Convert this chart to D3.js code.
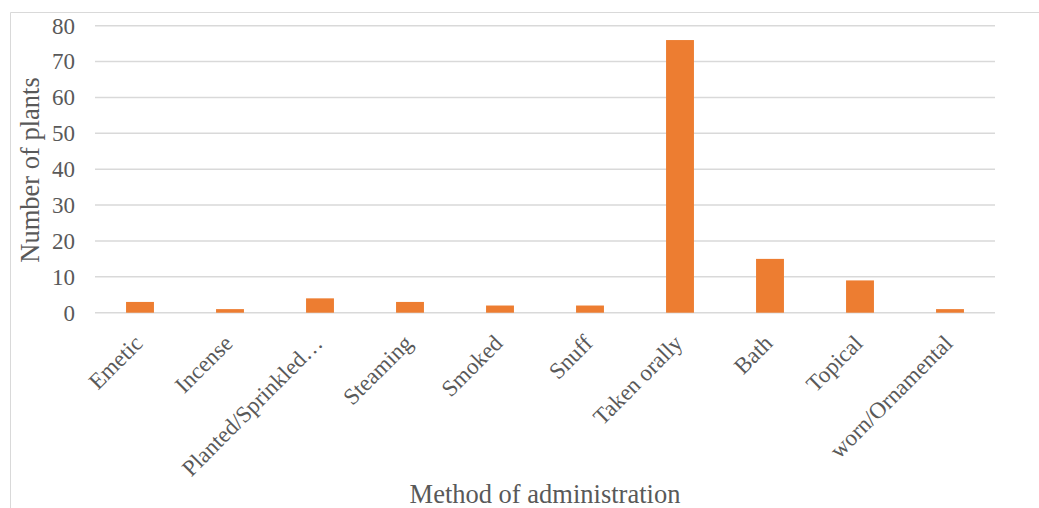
<!DOCTYPE html>
<html>
<head>
<meta charset="utf-8">
<script src="https://cdn.jsdelivr.net/npm/d3@7"></script>
<style>
  html, body { margin: 0; padding: 0; background: #fff; }
  svg { display: block; }
</style>
</head>
<body>
<svg id="chart" width="1039" height="508"></svg>
<script>
// Plants per method of administration
const categories = ["Emetic", "Incense", "Planted/Sprinkled\u2026", "Steaming", "Smoked", "Snuff", "Taken orally", "Bath", "Topical", "worn/Ornamental"];
const plantCounts = [3, 1, 4, 3, 2, 2, 76, 15, 9, 1];
const yTicks = [0, 10, 20, 30, 40, 50, 60, 70, 80];
const yTitle = "Number of plants";
const xTitle = "Method of administration";

const svg = d3.select("#chart");
const font = "'Liberation Serif', 'Times New Roman', serif";
const textColor = "#595959";

// chart frame
svg.append("path")
  .attr("d", "M10.5,508 V12.5 H1039")
  .attr("fill", "none")
  .attr("stroke", "#d9d9d9")
  .attr("stroke-width", 1);

const plot = { left: 95, right: 995, top: 25.7, bottom: 312.7 };

const x = d3.scaleBand()
  .domain(categories)
  .range([plot.left, plot.right])
  .paddingInner(0.69)
  .paddingOuter(0.345);

const y = d3.scaleLinear()
  .domain([0, 80])
  .range([plot.bottom, plot.top]);

// gridlines
svg.append("g")
  .selectAll("line")
  .data(yTicks)
  .join("line")
  .attr("x1", plot.left)
  .attr("x2", plot.right)
  .attr("y1", d => y(d))
  .attr("y2", d => y(d))
  .attr("stroke", "#d9d9d9")
  .attr("stroke-width", 1.5);

// bars
svg.append("g")
  .selectAll("rect")
  .data(categories.map((c, i) => ({ c, v: plantCounts[i] })))
  .join("rect")
  .attr("x", d => x(d.c))
  .attr("width", x.bandwidth())
  .attr("y", d => y(d.v))
  .attr("height", d => y(0) - y(d.v))
  .attr("fill", "#ed7d31");

// y axis labels
const yAxis = svg.append("g")
  .attr("transform", `translate(${plot.left},0)`)
  .call(d3.axisLeft(y).tickValues(yTicks).tickSize(0).tickPadding(20));
yAxis.select(".domain").remove();
yAxis.selectAll("text")
  .attr("font-family", font)
  .attr("font-size", 23)
  .attr("fill", textColor);

// x axis labels
const xAxis = svg.append("g")
  .attr("transform", `translate(0,${plot.bottom})`)
  .call(d3.axisBottom(x).tickSize(0).tickPadding(0));
xAxis.select(".domain").remove();
xAxis.selectAll("text")
  .attr("font-family", font)
  .attr("font-size", 23)
  .attr("fill", textColor)
  .attr("text-anchor", "end")
  .attr("dy", null)
  .attr("y", 0)
  .attr("transform", "translate(4,32) rotate(-45)");

// axis titles
svg.append("text")
  .attr("transform", `translate(39,170) rotate(-90)`)
  .attr("text-anchor", "middle")
  .attr("font-family", font)
  .attr("font-size", 26.5)
  .attr("fill", textColor)
  .text(yTitle);

svg.append("text")
  .attr("x", 545)
  .attr("y", 503)
  .attr("text-anchor", "middle")
  .attr("font-family", font)
  .attr("font-size", 26.5)
  .attr("fill", textColor)
  .text(xTitle);
</script>
</body>
</html>
